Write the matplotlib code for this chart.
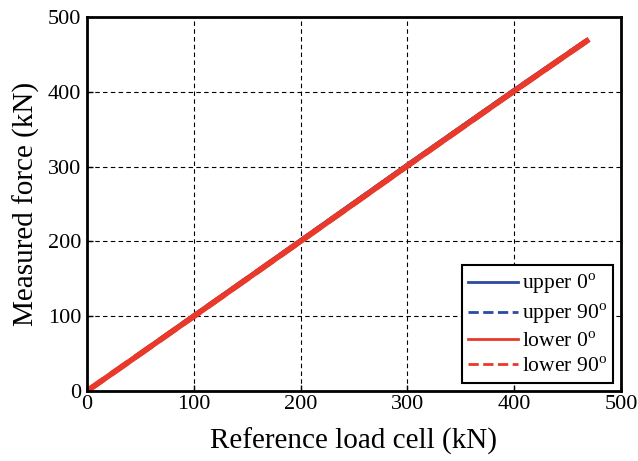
import numpy as np
import matplotlib.pyplot as plt

plt.rcParams['font.family'] = ['Liberation Serif', 'DejaVu Serif']
plt.rcParams['mathtext.fontset'] = 'custom'
plt.rcParams['mathtext.rm'] = 'Liberation Serif'

# reference load cell vs measured force for the four gauge positions
ref = [0, 50, 100, 150, 200, 250, 300, 350, 400, 468]
upper_0 = [0, 51, 101.5, 151.5, 202, 252.5, 303, 353, 403, 469.5]
upper_90 = [0, 50.8, 101.2, 151.2, 201.7, 252.2, 302.7, 352.7, 402.7, 469.2]
lower_0 = [0, 49.8, 99.8, 150, 200.2, 250.5, 301, 351, 401, 468]
lower_90 = [0, 49.9, 99.9, 150.1, 200.3, 250.6, 301.1, 351.1, 401.1, 468.2]

labels = ['upper 0$^\\mathregular{o}$', 'upper 90$^\\mathregular{o}$',
          'lower 0$^\\mathregular{o}$', 'lower 90$^\\mathregular{o}$']

fig = plt.figure(figsize=(6.38, 4.61), dpi=100)
ax = fig.add_axes([87/638, 70/461, 534/638, 374/461])

blue = '#2b4aa0'
red = '#e8392a'
ax.plot(ref, upper_0, color=blue, lw=2.5, label=labels[0])
ax.plot(ref, upper_90, color=blue, lw=2.5, ls='--', label=labels[1])
ax.plot(ref, lower_0, color=red, lw=4, label=labels[2])
ax.plot(ref, lower_90, color=red, lw=4, ls='--', label=labels[3])

ax.set_xlim(0, 500)
ax.set_ylim(0, 500)
ax.set_xticks(range(0, 501, 100))
ax.set_yticks(range(0, 501, 100))
ax.grid(True, ls=(0, (4, 3)), color='black', lw=0.8)
ax.tick_params(direction='in', labelsize=16, length=4, width=1)
ax.tick_params(axis='x', pad=3)
ax.tick_params(axis='y', pad=4)
for s in ax.spines.values():
    s.set_linewidth(2)

ax.set_xlabel('Reference load cell (kN)', fontsize=21, labelpad=10)
ax.set_ylabel('Measured force (kN)', fontsize=21, labelpad=6)

leg = ax.legend(loc='lower right', fontsize=15.5, fancybox=False, framealpha=1,
                edgecolor='black', handlelength=2.3, handletextpad=0.2,
                borderpad=0.3, labelspacing=0.25, borderaxespad=0.35)
leg.get_frame().set_linewidth(1.5)
for line in leg.get_lines():
    line.set_linewidth(2)

fig.savefig('out.png', dpi=100)
